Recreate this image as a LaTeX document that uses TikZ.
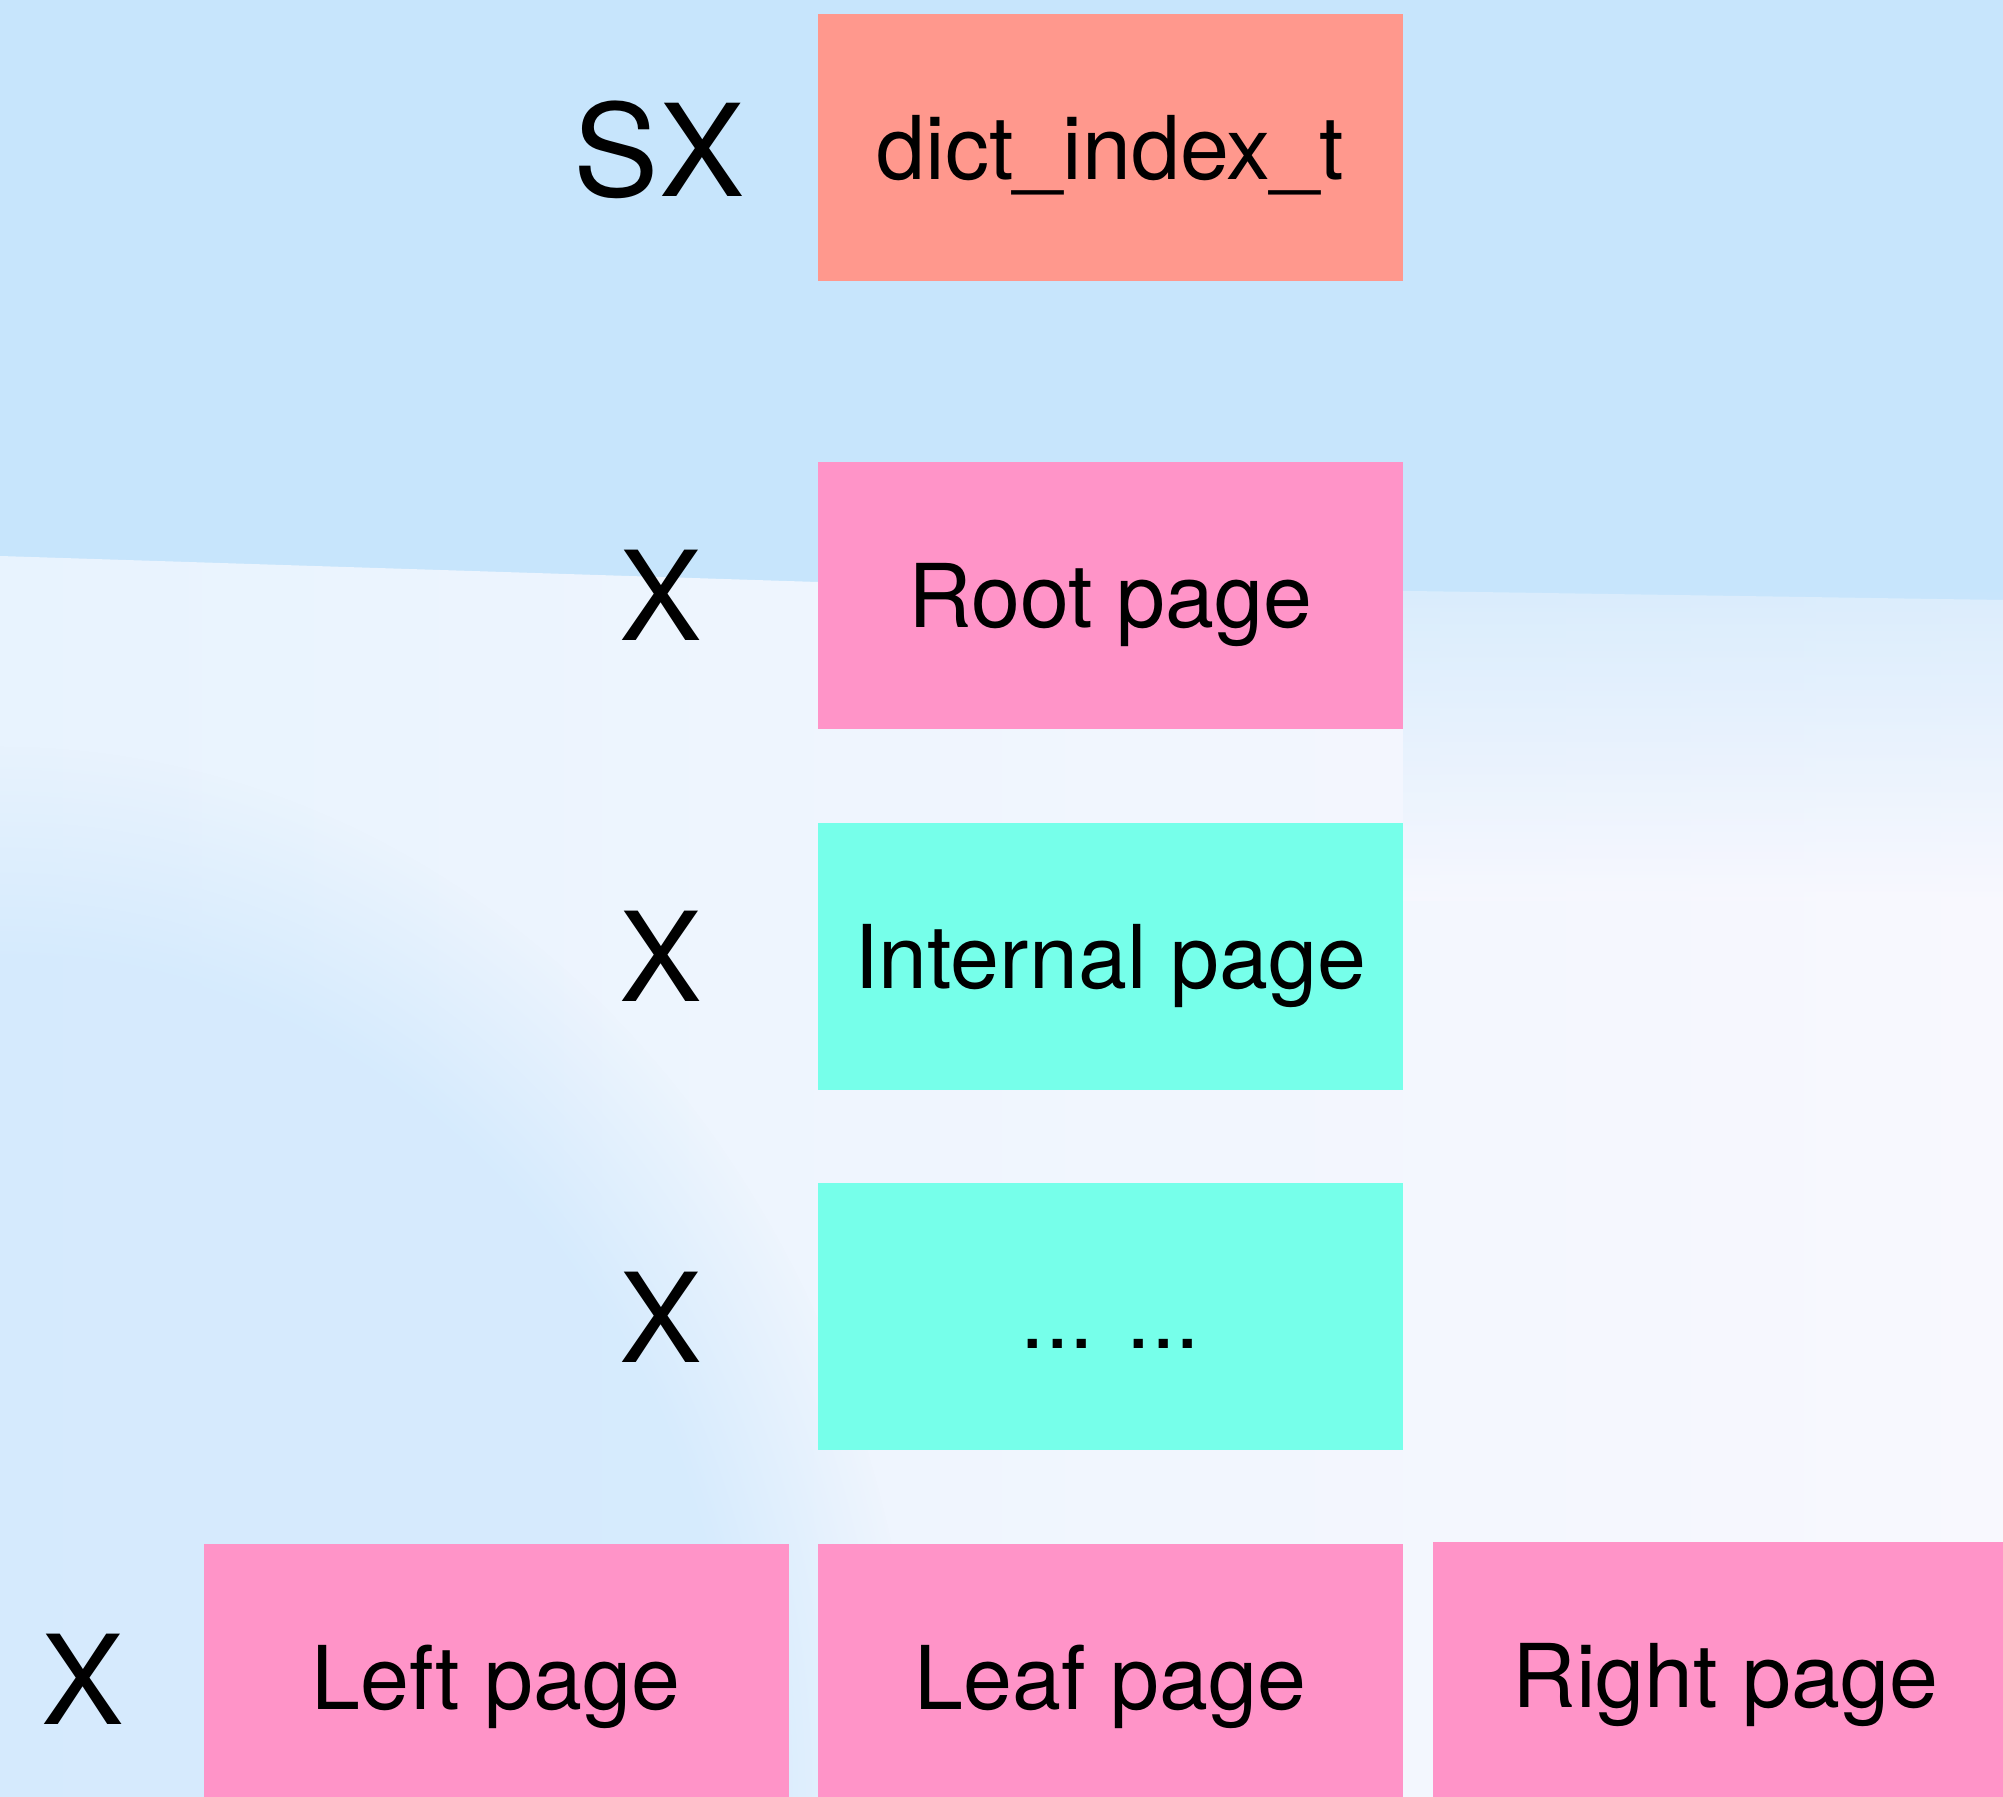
\documentclass[tikz,border=0pt]{standalone}
\usepackage{fontspec}
\setmainfont{TeX Gyre Heros}
\usetikzlibrary{fadings}
\definecolor{skyblue}{HTML}{C7E5FC}
\definecolor{paleleft}{HTML}{E8F3FE}
\definecolor{paleright}{HTML}{F8F8FE}
\definecolor{lowblue}{HTML}{D4EAFD}
\definecolor{salmon}{HTML}{FF988D}
\definecolor{pagepink}{HTML}{FF94C8}
\definecolor{aqua}{HTML}{76FFEA}
\tikzset{
  box/.style={draw=none, minimum width=292.5pt, minimum height=133.5pt,
    inner sep=0pt, text height=31.5pt, text depth=0pt,
    font=\fontsize{44}{50}\selectfont},
  lock/.style={inner sep=0pt, text height=44.4pt, text depth=0pt,
    font=\fontsize{62}{70}\selectfont},
}
\begin{document}
\begin{tikzpicture}[x=0.5pt, y=-0.5pt]
\useasboundingbox (0,0) rectangle (2003,1797);
\clip (0,0) rectangle (2003,1797);
% backdrop
\fill[skyblue] (0,0) rectangle (2003,1797);
\shade[left color=paleleft, right color=paleright]
  (0,556) -- (818,582) -- (2003,600) -- (2003,1797) -- (0,1797) -- cycle;
\fill[lowblue, path fading=circle with fuzzy edge 20 percent, opacity=0.9]
  (0,1797) ellipse [x radius=920, y radius=1050];
\shade[top color=skyblue, bottom color=paleright, opacity=0.6] (1403,582) rectangle (2003,900);
% stack of pages
\node[box, fill=salmon]   (dict)  at (1110.5,148)   {dict\_index\_t};
\node[box, fill=pagepink] (root)  at (1110.5,595.5) {Root page};
\node[box, fill=aqua]     (inner) at (1110.5,956.5) {Internal page};
\node[box, fill=aqua]     (more)  at (1110.5,1316.5) {... ...};
\node[box, fill=pagepink] (left)  at (496,1677.5)   {Left page};
\node[box, fill=pagepink] (leaf)  at (1110.5,1677.5) {Leaf page};
\node[box, fill=pagepink] (right) at (1725.5,1675.5) {Right page};
% lock modes
\node[lock, anchor=east, text height=45.8pt, font=\fontsize{64}{72}\selectfont] (lsx) at (745,151) {SX};
\node[lock, anchor=east] (lroot)  at (703,596) {X};
\node[lock, anchor=east] (linner) at (703,957) {X};
\node[lock, anchor=east] (lmore)  at (703,1318) {X};
\node[lock] (lleaf) at (83,1680) {X};
\end{tikzpicture}
\end{document}
